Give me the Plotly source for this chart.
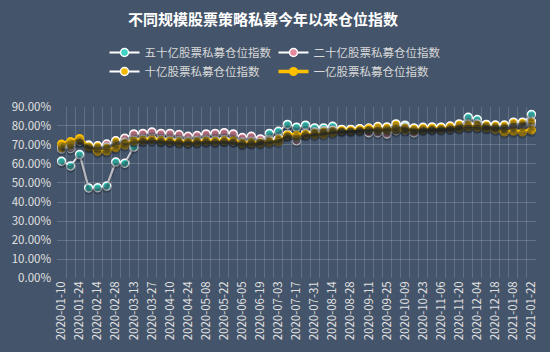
import plotly.graph_objects as go

dates = ["2020-01-10", "2020-01-17", "2020-01-24", "2020-02-07", "2020-02-14", "2020-02-21",
         "2020-02-28", "2020-03-06", "2020-03-13", "2020-03-20", "2020-03-27", "2020-04-03",
         "2020-04-10", "2020-04-17", "2020-04-24", "2020-04-30", "2020-05-08", "2020-05-15",
         "2020-05-22", "2020-05-29", "2020-06-05", "2020-06-12", "2020-06-19", "2020-06-24",
         "2020-07-03", "2020-07-10", "2020-07-17", "2020-07-24", "2020-07-31", "2020-08-07",
         "2020-08-14", "2020-08-21", "2020-08-28", "2020-09-04", "2020-09-11", "2020-09-18",
         "2020-09-25", "2020-09-30", "2020-10-09", "2020-10-16", "2020-10-23", "2020-10-30",
         "2020-11-06", "2020-11-13", "2020-11-20", "2020-11-27", "2020-12-04", "2020-12-11",
         "2020-12-18", "2020-12-31", "2021-01-08", "2021-01-15", "2021-01-22"]

s50 = [61.4, 59.0, 65.0, 47.4, 47.5, 48.4, 61.0, 60.4, 68.9, 72.3, 72.6, 72.4, 72.0, 71.8, 71.5,
       71.8, 72.2, 72.0, 72.5, 72.3, 71.0, 71.3, 72.0, 76.1, 77.2, 80.8, 79.4, 80.4, 79.0, 79.0,
       79.8, 78.2, 78.0, 78.5, 78.8, 78.6, 79.0, 79.5, 80.4, 78.6, 78.8, 79.0, 79.2, 79.4, 80.0,
       84.6, 83.4, 80.6, 80.2, 79.8, 80.8, 81.2, 86.0]
s20 = [69.0, 68.2, 72.0, 70.0, 69.2, 70.5, 71.5, 73.6, 75.8, 76.1, 76.8, 76.1, 76.1, 75.5, 74.6,
       75.0, 75.8, 76.1, 76.5, 75.8, 73.9, 74.6, 73.2, 72.8, 73.0, 75.5, 72.2, 75.8, 76.5, 77.0,
       77.5, 78.0, 78.0, 78.2, 76.5, 76.5, 75.8, 77.5, 78.0, 76.5, 78.2, 78.5, 78.5, 78.8, 79.2,
       80.0, 79.8, 79.5, 79.5, 79.8, 80.2, 80.8, 81.0]
s10 = [67.9, 69.5, 72.0, 69.5, 69.6, 69.0, 72.2, 71.5, 72.5, 73.0, 73.2, 72.8, 72.5, 72.3, 72.0,
       72.4, 72.6, 72.5, 72.8, 72.0, 71.5, 71.8, 71.5, 72.3, 73.5, 75.5, 74.0, 76.2, 76.8, 77.5,
       77.8, 78.0, 78.2, 78.5, 78.8, 79.7, 79.5, 81.1, 79.5, 79.0, 79.3, 79.5, 79.4, 80.0, 81.1,
       81.0, 81.0, 80.8, 80.5, 80.5, 82.0, 82.0, 82.3]
s1 = [70.5, 71.8, 73.4, 69.0, 66.5, 66.8, 68.5, 70.0, 72.0, 72.5, 72.8, 72.3, 72.0, 71.5, 71.3,
      71.5, 72.0, 71.9, 72.2, 72.2, 70.7, 71.0, 71.0, 71.5, 71.8, 75.1, 75.1, 75.5, 75.5, 75.8,
      76.5, 77.5, 77.5, 77.9, 78.5, 78.0, 78.0, 78.3, 78.0, 77.8, 78.2, 78.5, 78.4, 78.8, 79.0,
      79.6, 79.4, 79.1, 78.2, 76.8, 77.2, 76.8, 77.8]

names = ["五十亿股票私募仓位指数", "二十亿股票私募仓位指数", "十亿股票私募仓位指数", "一亿股票私募仓位指数"]
tick_text = [d if i % 2 == 0 else "" for i, d in enumerate(dates)]

BG = "#44546A"
FONT = "Noto Sans CJK SC"
fig = go.Figure()

# soft drop shadows (drawn on an overlaying axis shifted a few pixels down)
for s, w in [(s50, 3), (s20, 3), (s10, 3), (s1, 5)]:
    fig.add_trace(go.Scatter(x=dates, y=[v / 100 for v in s], yaxis="y2", mode="lines+markers",
                             line=dict(color="rgba(20,25,35,0.30)", width=w),
                             marker=dict(size=9, color="rgba(20,25,35,0.30)"),
                             showlegend=False, hoverinfo="skip"))

styles = [
    dict(line=dict(color="white", width=2), marker=dict(size=8, color="#3FD3C6", line=dict(color="white", width=1.5))),
    dict(line=dict(color="white", width=2), marker=dict(size=8, color="#E38A9E", line=dict(color="white", width=1.5))),
    dict(line=dict(color="white", width=2), marker=dict(size=8, color="#F5B800", line=dict(color="white", width=1.5))),
    dict(line=dict(color="#FFC000", width=3.5), marker=dict(size=9, color="#FFC000", line=dict(color="#FFC000", width=0))),
]
for s, n, st in zip([s50, s20, s10, s1], names, styles):
    fig.add_trace(go.Scatter(x=dates, y=[v / 100 for v in s], name=n, mode="lines+markers", **st))

fig.update_layout(
    width=550, height=352,
    paper_bgcolor=BG, plot_bgcolor=BG,
    margin=dict(l=52, r=14, t=71, b=71),
    font=dict(family=FONT, color="#E0E0E0", size=11),
    title=dict(text="<b>不同规模股票策略私募今年以来仓位指数</b>", x=0.478, xanchor="center",
               y=0.943, yanchor="middle", font=dict(size=15, color="white", family=FONT)),
    legend=dict(orientation="h", x=0.19, xanchor="left", xref="container",
                y=0.892, yanchor="top", yref="container", entrywidth=124,
                font=dict(size=11.5, color="#D9D9D9", family=FONT),
                bgcolor="rgba(0,0,0,0)", tracegroupgap=0, itemwidth=30),
    xaxis=dict(type="category", tickmode="array", tickvals=dates, ticktext=tick_text,
               tickangle=-90, tickson="boundaries", showgrid=True,
               gridcolor="rgba(255,255,255,0.16)", gridwidth=1, ticks="",
               showline=False, zeroline=False, tickfont=dict(size=11.5, color="#E0E0E0"),
               range=[-0.5, len(dates) - 0.5]),
    yaxis=dict(range=[0, 0.9], dtick=0.1, tickformat=".2%", showgrid=True,
               gridcolor="rgba(255,255,255,0.18)", zeroline=False, showline=False,
               ticklabelstandoff=5, tickfont=dict(size=11.5, color="#E0E0E0")),
    yaxis2=dict(range=[0.012, 0.912], overlaying="y", visible=False),
    showlegend=True,
)

fig.write_html("out.html")
